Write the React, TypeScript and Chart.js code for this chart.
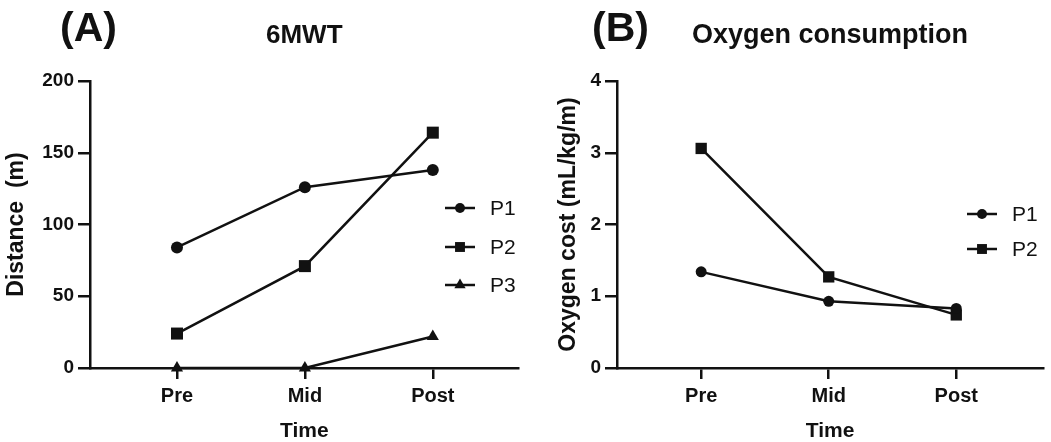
import React, { useEffect, useRef } from 'react';
import { Chart, registerables } from 'chart.js';

Chart.register(...registerables);

// ---- data ----
const timepoints = ['Pre', 'Mid', 'Post'];

const distanceNames = ['P1', 'P2', 'P3'];
const distanceP1 = [84, 126, 138];
const distanceP2 = [24, 71, 164];
const distanceP3 = [0, 0, 22];
const distanceTicks = [0, 50, 100, 150, 200];

const oxygenNames = ['P1', 'P2'];
const oxygenP1 = [1.34, 0.93, 0.83];
const oxygenP2 = [3.06, 1.27, 0.74];
const oxygenTicks = [0, 1, 2, 3, 4];

const markerStyles = ['circle', 'rect', 'triangle'];

const FONT = '"Liberation Sans", Arial, Helvetica, sans-serif';
const INK = '#111111';

function drawMarker(ctx: CanvasRenderingContext2D, style: string, x: number, y: number, r: number) {
  ctx.beginPath();
  if (style === 'circle') {
    ctx.arc(x, y, r, 0, Math.PI * 2);
  } else if (style === 'rect') {
    const s = r * Math.SQRT1_2;
    ctx.rect(x - s, y - s, 2 * s, 2 * s);
  } else {
    for (let i = 0; i < 3; i++) {
      const a = (i * 2 * Math.PI) / 3;
      const px = x + r * Math.sin(a);
      const py = y - r * Math.cos(a);
      if (i === 0) ctx.moveTo(px, py);
      else ctx.lineTo(px, py);
    }
    ctx.closePath();
  }
  ctx.fill();
}

type PanelCfg = {
  width: number;
  label: string;
  labelX: number;
  title: string;
  titleSize: number;
  yTitle: string;
  yTitlePad: number;
  series: number[][];
  names: string[];
  yTicks: number[];
  xMin: number;
  xMax: number;
  legendX: number;
  legendY: number[];
  pointSizes: number[];
};

function makeDecor(cfg: PanelCfg) {
  return {
    id: 'decor' + cfg.label,
    afterDraw(chart: any) {
      const ctx: CanvasRenderingContext2D = chart.ctx;
      const area = chart.chartArea;
      ctx.save();
      ctx.fillStyle = INK;
      ctx.textBaseline = 'alphabetic';
      ctx.textAlign = 'left';
      ctx.font = `bold 41px ${FONT}`;
      ctx.fillText(cfg.label, cfg.labelX, 41);
      ctx.textAlign = 'center';
      ctx.font = `bold ${cfg.titleSize}px ${FONT}`;
      ctx.fillText(cfg.title, (area.left + area.right) / 2, 43);
      // legend
      ctx.font = `21px ${FONT}`;
      ctx.textAlign = 'left';
      ctx.textBaseline = 'middle';
      ctx.strokeStyle = INK;
      ctx.lineWidth = 2.5;
      const legendR = [5, 7, 6.5];
      cfg.names.forEach((n, i) => {
        const y = cfg.legendY[i];
        ctx.beginPath();
        ctx.moveTo(cfg.legendX, y);
        ctx.lineTo(cfg.legendX + 30, y);
        ctx.stroke();
        drawMarker(ctx, markerStyles[i], cfg.legendX + 15, y, legendR[i]);
        ctx.fillText(n, cfg.legendX + 45, y + 1);
      });
      ctx.restore();
    },
  };
}

function Panel({ cfg }: { cfg: PanelCfg }) {
  const ref = useRef<HTMLCanvasElement | null>(null);
  useEffect(() => {
    if (!ref.current) return;
    const datasets = cfg.series.map((vals, i) => ({
      label: cfg.names[i],
      data: vals.map((v, j) => ({ x: j, y: v })),
      borderColor: INK,
      backgroundColor: INK,
      pointBackgroundColor: INK,
      pointBorderColor: INK,
      pointBorderWidth: 0,
      borderWidth: 2.5,
      pointStyle: markerStyles[i],
      pointRadius: cfg.pointSizes[i],
      clip: false,
      tension: 0,
    }));
    const yTicks = cfg.yTicks;
    const chart = new Chart(ref.current, {
      type: 'line',
      data: { datasets },
      options: {
        animation: false,
        responsive: false,
        devicePixelRatio: 1,
        events: [],
        layout: { padding: { top: 81, right: 4, left: 0, bottom: 0 } },
        plugins: { legend: { display: false }, tooltip: { enabled: false }, title: { display: false } },
        scales: {
          x: {
            type: 'linear',
            min: cfg.xMin,
            max: cfg.xMax,
            afterBuildTicks: (s: any) => {
              s.ticks = timepoints.map((_, i) => ({ value: i }));
            },
            afterFit: (s: any) => {
              s.height = 74;
            },
            grid: { drawOnChartArea: false, drawTicks: true, tickLength: 11, color: INK, lineWidth: 2.5 },
            border: { display: true, color: INK, width: 2.5 },
            ticks: {
              autoSkip: false,
              maxRotation: 0,
              padding: 5,
              color: INK,
              font: { family: FONT, size: 20, weight: 'bold' },
              callback: (v: any) => timepoints[Math.round(Number(v))] ?? '',
            },
            title: {
              display: true,
              text: 'Time',
              color: INK,
              font: { family: FONT, size: 21, weight: 'bold', lineHeight: 1 },
              padding: { top: 0, bottom: 0 },
            },
          },
          y: {
            type: 'linear',
            min: yTicks[0],
            max: yTicks[yTicks.length - 1],
            afterBuildTicks: (s: any) => {
              s.ticks = yTicks.map((v) => ({ value: v }));
            },
            afterFit: (s: any) => {
              s.width = 90;
            },
            grid: { drawOnChartArea: false, drawTicks: true, tickLength: 12, color: INK, lineWidth: 2.5 },
            border: { display: true, color: INK, width: 2.5 },
            ticks: {
              padding: 4,
              color: INK,
              font: { family: FONT, size: 19, weight: 'bold' },
              callback: (v: any) => String(v),
            },
            title: {
              display: true,
              text: cfg.yTitle,
              color: INK,
              font: { family: FONT, size: 23, weight: 'bold', lineHeight: 1 },
              padding: { top: cfg.yTitlePad, bottom: 0 },
            },
          },
        },
      } as any,
      plugins: [makeDecor(cfg)],
    });
    return () => chart.destroy();
  }, [cfg]);
  return <canvas ref={ref} width={cfg.width} height={442} style={{ display: 'block' }} />;
}

const panelA: PanelCfg = {
  width: 527,
  label: '(A)',
  labelX: 60,
  title: '6MWT',
  titleSize: 26,
  yTitle: 'Distance  (m)',
  yTitlePad: 5,
  series: [distanceP1, distanceP2, distanceP3],
  names: distanceNames,
  yTicks: distanceTicks,
  xMin: -0.68,
  xMax: 2.67,
  legendX: 445,
  legendY: [208, 247, 285],
  pointSizes: [6, 8.5, 7],
};

const panelB: PanelCfg = {
  width: 524,
  label: '(B)',
  labelX: 65,
  title: 'Oxygen consumption',
  titleSize: 27,
  yTitle: 'Oxygen cost (mL/kg/m)',
  yTitlePad: 30,
  series: [oxygenP1, oxygenP2],
  names: oxygenNames,
  yTicks: oxygenTicks,
  xMin: -0.66,
  xMax: 2.68,
  legendX: 440,
  legendY: [214, 249],
  pointSizes: [5.5, 8],
};

export default function App() {
  return (
    <div style={{ position: 'absolute', left: 0, top: 0, width: 1051, height: 442, background: '#fff', display: 'flex' }}>
      <Panel cfg={panelA} />
      <Panel cfg={panelB} />
    </div>
  );
}
